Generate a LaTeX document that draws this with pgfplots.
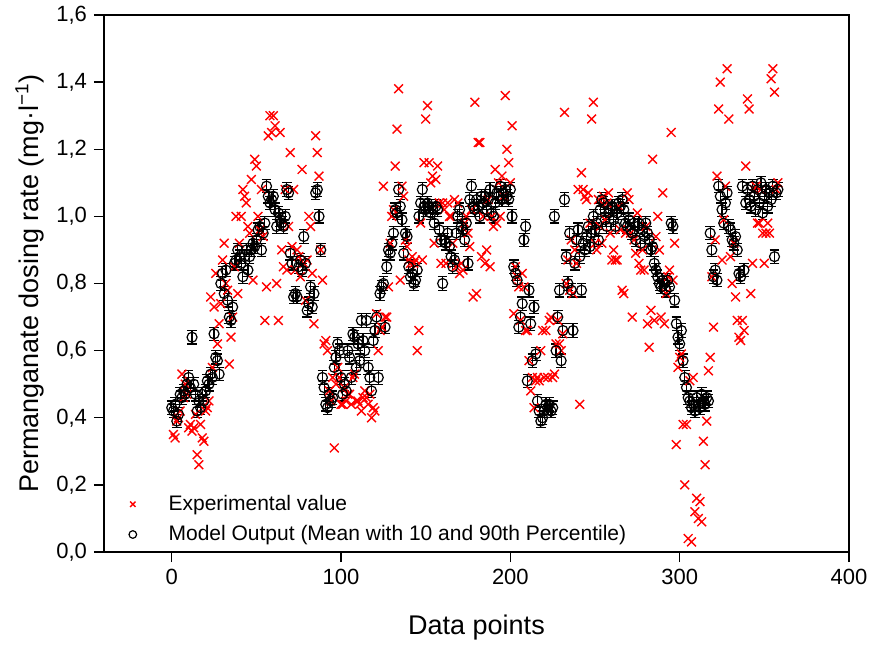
\documentclass[border=0pt]{standalone}
\usepackage{pgfplots}
\pgfplotsset{compat=1.18}
\usepackage{pgfplotstable}
\usepackage{fontspec}
\setmainfont{Liberation Sans}

% model output: mean (10th/90th percentile shown as error bars)
\pgfplotstableread[row sep=\\]{
x y\\
0 0.43\\ 1 0.42\\ 2 0.44\\ 3 0.39\\ 4 0.41\\ 5 0.47\\ 6 0.46\\ 7 0.48\\ 8 0.47\\ 9 0.50\\
10 0.52\\ 11 0.49\\ 12 0.64\\ 13 0.50\\ 14 0.47\\ 15 0.42\\ 16 0.45\\ 17 0.43\\ 18 0.47\\ 19 0.45\\
20 0.48\\ 21 0.51\\ 22 0.50\\ 23 0.53\\ 24 0.52\\ 25 0.65\\ 26 0.58\\ 27 0.57\\ 28 0.53\\ 29 0.80\\
30 0.83\\ 31 0.77\\ 32 0.84\\ 33 0.75\\ 34 0.70\\ 35 0.69\\ 36 0.73\\ 37 0.86\\ 38 0.87\\ 39 0.90\\
40 0.88\\ 41 0.86\\ 42 0.82\\ 43 0.88\\ 44 0.90\\ 45 0.84\\ 46 0.88\\ 47 0.90\\ 48 0.92\\ 49 0.91\\
50 0.93\\ 51 0.96\\ 52 0.97\\ 53 0.90\\ 54 0.95\\ 55 0.98\\ 56 1.09\\ 57 1.06\\ 58 1.04\\ 59 1.05\\
60 1.06\\ 61 1.02\\ 62 0.97\\ 63 1.01\\ 64 0.99\\ 65 0.98\\ 66 0.97\\ 67 1.00\\ 68 1.08\\ 69 1.07\\
70 0.89\\ 71 0.86\\ 72 0.76\\ 73 0.77\\ 74 0.76\\ 75 0.85\\ 76 0.87\\ 77 0.84\\ 78 0.94\\ 79 0.86\\
80 0.72\\ 81 0.74\\ 82 0.79\\ 83 0.73\\ 84 0.77\\ 85 1.07\\ 86 1.08\\ 87 1.00\\ 88 0.90\\ 89 0.52\\
90 0.49\\ 91 0.44\\ 92 0.43\\ 93 0.47\\ 94 0.45\\ 95 0.46\\ 96 0.55\\ 97 0.58\\ 98 0.62\\ 99 0.60\\
100 0.52\\ 101 0.47\\ 102 0.50\\ 103 0.48\\ 104 0.60\\ 105 0.58\\ 106 0.52\\ 107 0.65\\ 108 0.64\\ 109 0.55\\
110 0.62\\ 111 0.57\\ 112 0.69\\ 113 0.63\\ 114 0.60\\ 115 0.69\\ 116 0.55\\ 117 0.52\\ 118 0.48\\ 119 0.63\\
120 0.66\\ 121 0.70\\ 122 0.52\\ 123 0.77\\ 124 0.79\\ 125 0.80\\ 126 0.67\\ 127 0.85\\ 128 0.90\\ 129 0.89\\
130 0.92\\ 131 0.95\\ 132 1.02\\ 133 1.01\\ 134 1.08\\ 135 1.03\\ 136 0.99\\ 137 0.89\\ 138 0.95\\ 139 0.94\\
140 0.85\\ 141 0.82\\ 142 0.83\\ 143 0.80\\ 144 0.81\\ 145 0.84\\ 146 1.00\\ 147 1.04\\ 148 1.08\\ 149 1.03\\
150 1.02\\ 151 1.04\\ 152 1.03\\ 153 1.01\\ 154 1.02\\ 155 0.98\\ 156 1.03\\ 157 1.02\\ 158 0.96\\ 159 0.93\\
160 0.80\\ 161 0.93\\ 162 0.92\\ 163 0.95\\ 164 0.91\\ 165 0.88\\ 166 0.85\\ 167 0.87\\ 168 0.95\\ 169 1.00\\
170 1.02\\ 171 0.97\\ 172 0.96\\ 173 0.93\\ 174 0.98\\ 175 0.86\\ 176 1.05\\ 177 1.09\\ 178 1.03\\ 179 1.02\\
180 1.05\\ 181 1.03\\ 182 1.00\\ 183 1.06\\ 184 1.04\\ 185 1.06\\ 186 1.02\\ 187 1.05\\ 188 1.08\\ 189 1.01\\
190 1.00\\ 191 1.04\\ 192 1.07\\ 193 1.06\\ 194 1.09\\ 195 1.05\\ 196 1.07\\ 197 1.08\\ 198 1.06\\ 199 1.05\\
200 1.08\\ 201 1.00\\ 202 0.85\\ 203 0.83\\ 204 0.81\\ 205 0.67\\ 206 0.70\\ 207 0.74\\ 208 0.93\\ 209 0.97\\
210 0.51\\ 211 0.78\\ 212 0.68\\ 213 0.57\\ 214 0.73\\ 215 0.59\\ 216 0.45\\ 217 0.42\\ 218 0.39\\ 219 0.40\\
220 0.42\\ 221 0.44\\ 222 0.43\\ 223 0.44\\ 224 0.42\\ 225 0.43\\ 226 1.00\\ 227 0.60\\ 228 0.70\\ 229 0.78\\
230 0.57\\ 231 0.66\\ 232 1.05\\ 233 0.88\\ 234 0.80\\ 235 0.95\\ 236 0.78\\ 237 0.66\\ 238 0.86\\ 239 0.93\\
240 0.96\\ 241 0.88\\ 242 0.78\\ 243 0.92\\ 244 0.90\\ 245 0.94\\ 246 0.97\\ 247 0.91\\ 248 0.95\\ 249 1.00\\
250 0.96\\ 251 0.98\\ 252 0.93\\ 253 1.02\\ 254 1.05\\ 255 1.04\\ 256 0.99\\ 257 0.97\\ 258 1.01\\ 259 1.02\\
260 1.03\\ 261 0.99\\ 262 0.97\\ 263 1.01\\ 264 1.04\\ 265 1.03\\ 266 1.05\\ 267 1.02\\ 268 0.98\\ 269 0.97\\
270 0.99\\ 271 0.96\\ 272 0.95\\ 273 0.98\\ 274 0.93\\ 275 0.97\\ 276 0.98\\ 277 0.92\\ 278 0.96\\ 279 0.94\\
280 0.98\\ 281 0.95\\ 282 0.93\\ 283 0.90\\ 284 0.91\\ 285 0.86\\ 286 0.84\\ 287 0.82\\ 288 0.80\\ 289 0.79\\
290 0.81\\ 291 0.80\\ 292 0.78\\ 293 0.81\\ 294 0.79\\ 295 0.98\\ 296 0.97\\ 297 0.75\\ 298 0.68\\ 299 0.64\\
300 0.62\\ 301 0.66\\ 302 0.57\\ 303 0.52\\ 304 0.49\\ 305 0.46\\ 306 0.45\\ 307 0.43\\ 308 0.44\\ 309 0.42\\
310 0.46\\ 311 0.44\\ 312 0.43\\ 313 0.47\\ 314 0.45\\ 315 0.44\\ 316 0.46\\ 317 0.45\\ 318 0.95\\ 319 0.90\\
320 0.82\\ 321 0.84\\ 322 0.81\\ 323 1.09\\ 324 1.06\\ 325 1.02\\ 326 0.98\\ 327 1.04\\ 328 1.07\\ 329 0.97\\
330 0.96\\ 331 0.93\\ 332 0.92\\ 333 0.94\\ 334 0.90\\ 335 0.83\\ 336 0.82\\ 337 1.09\\ 338 0.84\\ 339 1.04\\
340 1.08\\ 341 1.05\\ 342 1.03\\ 343 1.09\\ 344 1.06\\ 345 1.02\\ 346 1.08\\ 347 1.04\\ 348 1.10\\ 349 1.01\\
350 1.06\\ 351 1.08\\ 352 1.03\\ 353 1.07\\ 354 1.05\\ 355 1.09\\ 356 0.88\\ 357 1.07\\ 358 1.08\\
}\modeldata

% experimental values
\pgfplotstableread[row sep=\\]{
x y\\
1 0.35\\ 2 0.34\\ 3 0.39\\ 4 0.40\\ 5 0.42\\ 6 0.53\\ 7 0.46\\ 8 0.50\\ 9 0.47\\
10 0.37\\ 11 0.38\\ 12 0.36\\ 13 0.37\\ 14 0.41\\ 15 0.29\\ 16 0.26\\ 17 0.38\\ 18 0.34\\ 19 0.33\\
20 0.42\\ 21 0.43\\ 22 0.45\\ 23 0.76\\ 24 0.55\\ 25 0.73\\ 26 0.83\\ 27 0.62\\ 28 0.68\\ 29 0.74\\
30 0.87\\ 31 0.92\\ 32 0.80\\ 33 0.78\\ 34 0.56\\ 35 0.64\\ 36 0.70\\ 37 0.85\\ 38 1.00\\ 39 0.77\\
40 0.92\\ 41 1.00\\ 42 1.08\\ 43 1.06\\ 44 1.04\\ 45 0.97\\ 46 0.95\\ 47 1.11\\ 48 0.81\\ 49 1.17\\
50 1.15\\ 51 1.00\\ 52 0.96\\ 53 1.08\\ 54 0.94\\ 55 0.69\\ 56 0.79\\ 57 1.24\\ 58 1.30\\ 59 1.25\\
60 1.30\\ 61 1.27\\ 62 0.80\\ 63 0.69\\ 64 1.25\\ 65 0.90\\ 66 0.85\\ 67 1.08\\ 68 0.84\\ 69 0.97\\
70 1.19\\ 71 0.91\\ 72 1.08\\ 73 0.84\\ 74 0.90\\ 75 0.88\\ 76 0.82\\ 77 1.14\\ 78 0.86\\ 79 0.75\\
80 0.87\\ 81 1.00\\ 82 0.97\\ 83 0.83\\ 84 0.68\\ 85 1.24\\ 86 1.19\\ 87 1.12\\ 88 0.90\\ 89 0.81\\
90 0.62\\ 91 0.63\\ 92 0.60\\ 93 0.48\\ 94 0.45\\ 95 0.52\\ 96 0.31\\ 97 0.50\\ 98 0.55\\ 99 0.52\\
100 0.44\\ 101 0.44\\ 102 0.49\\ 103 0.45\\ 104 0.47\\ 105 0.47\\ 106 0.44\\ 107 0.52\\ 108 0.53\\ 109 0.45\\
110 0.45\\ 111 0.44\\ 112 0.42\\ 113 0.46\\ 114 0.48\\ 115 0.46\\ 116 0.44\\ 117 0.47\\ 118 0.40\\ 119 0.43\\
120 0.42\\ 121 0.71\\ 122 0.60\\ 123 0.66\\ 124 0.67\\ 125 1.09\\ 126 0.70\\ 127 0.70\\ 128 0.79\\ 129 0.92\\
130 1.00\\ 131 1.02\\ 132 1.15\\ 133 1.26\\ 134 1.38\\ 135 0.81\\ 136 1.09\\ 137 1.06\\ 138 0.93\\ 139 0.91\\
140 0.87\\ 141 0.86\\ 142 0.88\\ 143 0.86\\ 144 0.87\\ 145 0.60\\ 146 0.66\\ 147 0.98\\ 148 0.87\\ 149 1.16\\
150 1.29\\ 151 1.33\\ 152 1.16\\ 153 1.10\\ 154 1.12\\ 155 0.92\\ 156 1.11\\ 157 1.15\\ 158 1.04\\ 159 0.86\\
160 1.04\\ 161 1.02\\ 162 0.86\\ 163 1.04\\ 164 1.00\\ 165 1.00\\ 166 0.92\\ 167 1.05\\ 168 0.85\\ 169 1.04\\
170 0.83\\ 171 0.86\\ 172 0.84\\ 173 0.98\\ 174 1.00\\ 175 0.95\\ 176 0.91\\ 177 1.02\\ 178 0.76\\ 179 1.34\\
180 0.77\\ 181 1.22\\ 182 1.22\\ 183 0.88\\ 184 1.00\\ 185 0.86\\ 186 0.90\\ 187 1.05\\ 188 0.85\\ 189 1.00\\
190 0.97\\ 191 1.14\\ 192 0.98\\ 193 1.10\\ 194 1.00\\ 195 1.12\\ 196 1.06\\ 197 1.36\\ 198 1.20\\ 199 1.16\\
200 1.10\\ 201 1.27\\ 202 0.71\\ 203 0.85\\ 204 0.82\\ 205 0.79\\ 206 0.69\\ 207 0.83\\ 208 0.79\\ 209 0.66\\
210 0.66\\ 211 0.57\\ 212 0.48\\ 213 0.52\\ 214 0.43\\ 215 0.51\\ 216 0.52\\ 217 0.51\\ 218 0.60\\ 219 0.66\\
220 0.52\\ 221 0.66\\ 222 0.52\\ 223 0.69\\ 224 0.70\\ 225 0.52\\ 226 0.53\\ 227 0.62\\ 228 0.69\\ 229 0.62\\
230 0.60\\ 231 0.65\\ 232 1.31\\ 233 0.80\\ 234 0.87\\ 235 0.78\\ 236 0.93\\ 237 0.77\\ 238 0.90\\ 239 0.86\\
240 1.08\\ 241 0.44\\ 242 1.13\\ 243 1.08\\ 244 1.06\\ 245 1.05\\ 246 1.07\\ 247 0.98\\ 248 1.29\\ 249 1.34\\
250 0.92\\ 251 0.90\\ 252 1.05\\ 253 0.97\\ 254 0.92\\ 255 1.06\\ 256 0.99\\ 257 1.04\\ 258 1.07\\ 259 0.95\\
260 0.87\\ 261 0.90\\ 262 0.87\\ 263 0.87\\ 264 1.03\\ 265 0.96\\ 266 0.78\\ 267 0.77\\ 268 0.95\\ 269 1.07\\
270 1.05\\ 271 0.95\\ 272 0.70\\ 273 0.93\\ 274 0.89\\ 275 1.01\\ 276 0.86\\ 277 0.84\\ 278 0.90\\ 279 0.84\\
280 0.97\\ 281 0.68\\ 282 0.61\\ 283 0.72\\ 284 1.17\\ 285 0.69\\ 286 0.94\\ 287 1.00\\ 288 0.90\\ 289 0.70\\
290 1.07\\ 291 0.68\\ 292 0.77\\ 293 0.82\\ 294 0.84\\ 295 1.25\\ 296 0.81\\ 297 0.92\\ 298 0.32\\ 299 0.55\\
300 0.58\\ 301 0.59\\ 302 0.38\\ 303 0.20\\ 304 0.38\\ 305 0.04\\ 306 0.51\\ 307 0.03\\ 308 0.52\\ 309 0.12\\
310 0.16\\ 311 0.10\\ 312 0.15\\ 313 0.09\\ 314 0.33\\ 315 0.26\\ 316 0.39\\ 317 0.54\\ 318 0.58\\ 319 0.82\\
320 0.67\\ 321 0.93\\ 322 1.12\\ 323 1.32\\ 324 1.40\\ 325 0.87\\ 326 0.99\\ 327 1.09\\ 328 1.44\\ 329 1.29\\
330 0.88\\ 331 0.80\\ 332 0.92\\ 333 0.76\\ 334 0.69\\ 335 0.64\\ 336 0.63\\ 337 0.69\\ 338 0.66\\ 339 1.15\\
340 1.35\\ 341 1.32\\ 342 0.77\\ 343 0.86\\ 344 1.08\\ 345 1.09\\ 346 0.98\\ 347 0.98\\ 348 1.08\\ 349 0.95\\
350 0.86\\ 351 0.95\\ 352 0.98\\ 353 0.95\\ 354 1.41\\ 355 1.44\\ 356 1.37\\ 357 1.08\\ 358 1.10\\
}\expdata

\begin{document}
\begin{tikzpicture}
  \begin{axis}[
    width=372.5pt, height=268.5pt, scale only axis,
    xmin=-40, xmax=400, ymin=0, ymax=1.6,
    xtick={0,100,200,300,400},
    ytick={0,0.2,0.4,0.6,0.8,1.0,1.2,1.4,1.6},
    tick align=outside, xtick pos=bottom, ytick pos=left,
    major tick length=5pt,
    axis line style={line width=0.65pt},
    every tick/.style={black, line width=0.65pt},
    yticklabel style={/pgf/number format/.cd, fixed, fixed zerofill, precision=1, use comma},
    /pgf/number format/assume math mode=true,
    ticklabel style={font=\fontsize{11}{13}\selectfont},
    label style={font=\fontsize{13.5}{16}\selectfont},
    xlabel={Data points},
    ylabel={Permanganate dosing rate (mg·l\textsuperscript{−1})},
    xlabel style={at={(axis description cs:0.5,-0.1397)}, anchor=center},
    ylabel style={at={(axis description cs:-0.0993,0.5)}, anchor=center},
    legend style={at={(0.025,0.0)}, anchor=south west, draw=none, fill=none,
      font=\fontsize{10.5}{12}\selectfont, row sep=2pt,
      /tikz/every odd column/.append style={column sep=14pt}},
    legend image post style={mark size=1.9pt},
    legend cell align=left,
  ]
  \coordinate (sw) at (rel axis cs:0,0);
  \coordinate (ne) at (rel axis cs:1,1);
  \addplot[only marks, mark=x, red, mark size=3.1pt, line width=0.7pt]
    table {\expdata};
  \addlegendentry{Experimental value}
  \addplot[only marks, mark=o, mark size=2.5pt, line width=0.6pt,
    mark options={fill=white, draw=black},
    error bars/.cd, y dir=both, y fixed=0.02,
    error bar style={line width=0.6pt, black},
    error mark options={rotate=90, mark size=2.4pt, line width=0.6pt}]
    table {\modeldata};
  \addlegendentry{Model Output (Mean with 10 and 90th Percentile)}
  \end{axis}
  \pgfresetboundingbox
  \path[use as bounding box] ([shift={(-52pt,-46pt)}]sw) rectangle ([shift={(11pt,7.5pt)}]ne);
\end{tikzpicture}
\end{document}
